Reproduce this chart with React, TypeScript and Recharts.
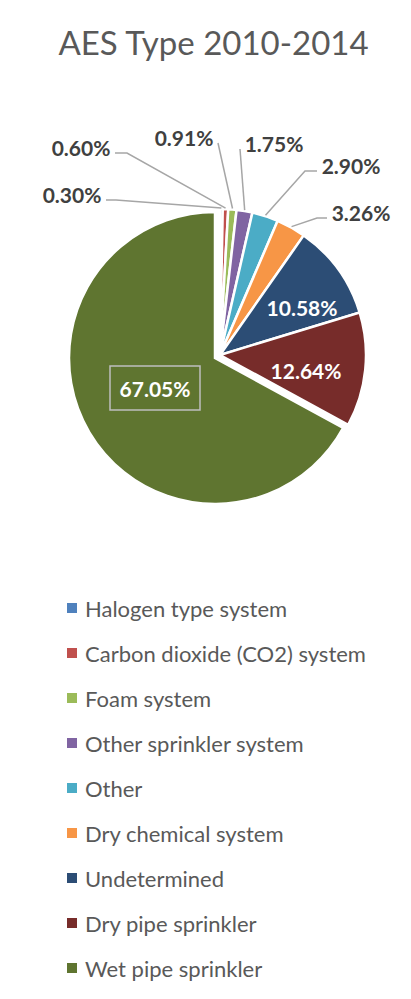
import React from 'react';
import { PieChart, Pie, Cell } from 'recharts';

const categories = [
  'Halogen type system',
  'Carbon dioxide (CO2) system',
  'Foam system',
  'Other sprinkler system',
  'Other',
  'Dry chemical system',
  'Undetermined',
  'Dry pipe sprinkler',
  'Wet pipe sprinkler',
];
const shares = [0.3, 0.6, 0.91, 1.75, 2.9, 3.26, 10.58, 12.64, 67.05];
const colors = ['#4f81bd', '#c0504d', '#9bbb59', '#8064a2', '#4bacc6', '#f79646', '#2c4d75', '#772c2a', '#5f7530'];

const data = categories.map((name, i) => ({ name, value: shares[i] }));

// label centre offsets from the pie centre (Excel moved these by hand)
const LABEL_POS = [
  [-148, -161], [-139, -208], [-36, -218], [54, -212], [131, -190], [141, -143],
  [82, -48], [86, 15], [-60, 30],
];
const ELBOW = [10, 12, 0, 0, 12, 10];
const EXPLODED = 8; // wet pipe slice is pulled out a little

const FONT = 'Lato, "Open Sans", sans-serif';
const RAD = Math.PI / 180;

const renderLabel = (onlyExploded: boolean) => (props: any) => {
  const { cx, cy, midAngle, outerRadius, index } = props;
  if (onlyExploded !== (index === EXPLODED)) return null;
  const [dx, dy] = LABEL_POS[index];
  const x = cx + dx;
  const y = cy + dy;
  const text = shares[index].toFixed(2) + '%';
  if (index >= 6) {
    return (
      <g key={`lbl-${index}`}>
        {index === EXPLODED && (
          <rect x={x - 45} y={y - 22} width={90} height={44} fill="none" stroke="#bfbfbf" strokeWidth={1.5} />
        )}
        <text x={x} y={y} fill="#fff" fontFamily={FONT} fontWeight={700} fontSize={21}
          textAnchor="middle" dominantBaseline="central">{text}</text>
      </g>
    );
  }
  const px = cx + (outerRadius + 1) * Math.cos(-midAngle * RAD);
  const py = cy + (outerRadius + 1) * Math.sin(-midAngle * RAD);
  const leftOfPoint = x < px;
  const sx = leftOfPoint ? x + 34 : x - 34;
  const sy = y + 6;
  const ex = leftOfPoint ? sx + ELBOW[index] : sx - ELBOW[index];
  return (
    <g key={`lbl-${index}`}>
      <polyline points={`${sx},${sy} ${ex},${sy} ${px},${py}`} fill="none" stroke="#a6a6a6" strokeWidth={1.5} />
      <text x={x} y={y} fill="#404040" fontFamily={FONT} fontWeight={700} fontSize={21}
        textAnchor="middle" dominantBaseline="central">{text}</text>
    </g>
  );
};

export default function App() {
  return (
    <div style={{ position: 'relative', width: 411, height: 999, margin: -8, overflow: 'hidden', background: '#fff' }}>
      <div style={{ position: 'absolute', left: 5, top: 4, width: 420, height: 1010, border: '2px solid #d9d9d9' }} />
      <div style={{
        position: 'absolute', left: 0, top: 22, width: 427, textAlign: 'center',
        fontFamily: FONT, fontSize: 33, color: '#595959', lineHeight: '40px',
      }}>
        AES Type 2010-2014
      </div>
      <div style={{ position: 'absolute', left: 0, top: 0 }}>
        <PieChart width={411} height={580}>
          <Pie
            data={data}
            dataKey="value"
            nameKey="name"
            cx={215}
            cy={350}
            outerRadius={146}
            startAngle={90}
            endAngle={-270}
            stroke="#fff"
            strokeWidth={2.5}
            labelLine={false}
            label={renderLabel(false)}
            legendType="none"
            isAnimationActive={false}
          >
            {data.map((d, i) => (
              <Cell key={`a-${i}`} fill={i === EXPLODED ? 'none' : colors[i]} stroke={i === EXPLODED ? 'none' : '#fff'} />
            ))}
          </Pie>
          <Pie
            data={data}
            dataKey="value"
            nameKey="name"
            cx={210}
            cy={353}
            outerRadius={146}
            startAngle={90}
            endAngle={-270}
            stroke="#fff"
            strokeWidth={2.5}
            labelLine={false}
            label={renderLabel(true)}
            legendType="none"
            isAnimationActive={false}
          >
            {data.map((d, i) => (
              <Cell key={`b-${i}`} fill={i === EXPLODED ? colors[i] : 'none'} stroke={i === EXPLODED ? '#fff' : 'none'} />
            ))}
          </Pie>
        </PieChart>
      </div>
      {categories.map((name, i) => (
        <div key={name} style={{
          position: 'absolute', left: 67, top: 608 + 45 * i - 15, height: 30,
          display: 'flex', alignItems: 'center', fontFamily: FONT, fontSize: 22, color: '#595959',
        }}>
          <span style={{ width: 10, height: 10, background: colors[i], marginRight: 8, display: 'inline-block' }} />
          {name}
        </div>
      ))}
    </div>
  );
}
